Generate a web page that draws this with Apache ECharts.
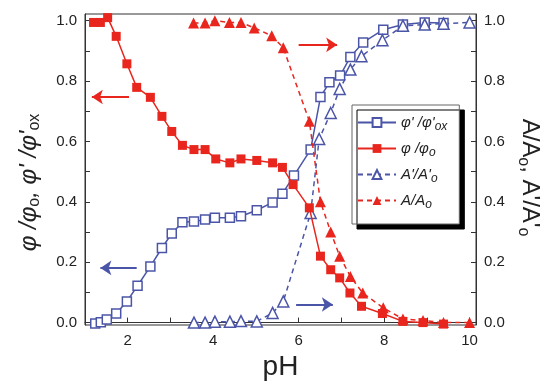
<!DOCTYPE html>
<html>
<head>
<meta charset="utf-8">
<script src="https://cdn.jsdelivr.net/npm/echarts@6/dist/echarts.min.js"></script>
<style>html,body{margin:0;padding:0;background:#fff;}#c{width:545px;height:383px;}</style>
</head>
<body>
<div id="c"></div>
<script>
// φ'/φ'ox (blue open squares)
const phPhiP = [1.24,1.37,1.51,1.73,1.98,2.23,2.53,2.8,3.03,3.28,3.55,3.81,4.04,4.39,4.65,5.02,5.39,5.62,5.89,6.28,6.51,6.72,6.97,7.21,7.51,7.98,8.44,8.95,9.39];
const valPhiP = [-0.003,0.001,0.01,0.03,0.07,0.122,0.186,0.247,0.295,0.332,0.335,0.341,0.347,0.347,0.352,0.372,0.398,0.427,0.487,0.573,0.747,0.796,0.818,0.88,0.928,0.97,0.987,0.994,0.992];
// φ/φo (red filled squares)
const phPhi = [1.2,1.36,1.53,1.73,1.98,2.21,2.53,2.8,3.03,3.28,3.55,3.81,4.06,4.39,4.65,5.02,5.39,5.62,5.87,6.25,6.51,6.75,6.96,7.2,7.47,7.96,8.44,8.91,9.39];
const valPhi = [0.994,0.994,1.01,0.948,0.857,0.779,0.746,0.683,0.633,0.587,0.573,0.573,0.542,0.529,0.542,0.537,0.529,0.514,0.457,0.38,0.22,0.175,0.148,0.098,0.054,0.03,0.004,0.0,-0.005];
// A'/A'o (blue open triangles)
const phAP = [3.55,3.81,4.04,4.39,4.65,5.02,5.39,5.64,6.28,6.48,6.75,6.96,7.21,7.47,7.96,8.44,8.95,9.39,10.0];
const valAP = [0,0,0.003,0.003,0.005,0.004,0.032,0.07,0.363,0.608,0.694,0.774,0.838,0.882,0.935,0.983,0.987,0.99,0.994];
// A/Ao (red filled triangles)
const phA = [3.54,3.81,4.04,4.38,4.65,4.96,5.37,5.64,6.25,6.51,6.75,6.96,7.21,7.5,7.98,8.44,8.91,9.39,10.0];
const valA = [0.992,0.992,1.0,0.994,0.994,0.976,0.95,0.91,0.667,0.40,0.30,0.22,0.153,0.098,0.049,0.012,0.007,0.0,0.0];

const xTicks = [2,3,4,5,6,7,8,9,10];
const xLabels = [2,4,6,8,10];
const yTicks = [0,0.1,0.2,0.3,0.4,0.5,0.6,0.7,0.8,0.9,1.0];
const yLabels = [0,0.2,0.4,0.6,0.8,1.0];

// arrows: [xStart, xEnd, y]
const arrowPhi = [2.03, 1.16, 0.747];
const arrowA = [6.0, 6.9, 0.92];
const arrowPhiP = [2.21, 1.36, 0.181];
const arrowAP = [5.94, 6.8, 0.06];

const BLUE = '#4b55a8', RED = '#e8261e';
const zip = (xs, ys) => xs.map((x, i) => [x, ys[i]]);
const arrowLine = (a, color) => ({
  silent: true, symbol: ['none', 'arrow'], symbolSize: 11,
  label: {show: false},
  itemStyle: {color: color},
  lineStyle: {color: color, width: 2, type: 'solid'},
  emphasis: {disabled: true},
  data: [[{coord: [a[0], a[2]], itemStyle: {color: color}}, {coord: [a[1], a[2]], itemStyle: {color: color}}]]
});

const chart = echarts.init(document.getElementById('c'), null, {renderer: 'canvas'});
const subRich = {
  t: {fontSize: 24, fontStyle: 'italic', color: '#222', fontFamily: 'Liberation Sans'},
  s: {fontSize: 16, color: '#222', fontFamily: 'Liberation Sans', padding: [12, 0, 0, 0]}
};
const axisCommon = {
  axisLine: {show: true, lineStyle: {color: '#333', width: 1}},
  splitLine: {show: false},
  axisLabel: {color: '#222', fontSize: 15, fontFamily: 'Liberation Sans'},
};
chart.setOption({
  animation: false,
  backgroundColor: '#fff',
  grid: {left: 85, right: 69, top: 14, bottom: 58, show: true, borderColor: '#333', borderWidth: 1,
         containLabel: false, outerBoundsMode: 'none'},
  legend: {
    orient: 'vertical', left: 352, top: 105, itemWidth: 38, itemHeight: 11, itemGap: 8,
    padding: [10, 12, 13, 5],
    backgroundColor: '#fff', borderColor: '#666', borderWidth: 1,
    shadowColor: '#000', shadowOffsetX: 5, shadowOffsetY: 5, shadowBlur: 0,
    textStyle: {
      fontSize: 15, fontStyle: 'italic', color: '#222', fontFamily: 'Liberation Sans',
      rich: {
        t: {fontSize: 15, fontStyle: 'italic', color: '#222', fontFamily: 'Liberation Sans'},
        s: {fontSize: 12, color: '#222', fontFamily: 'Liberation Sans', padding: [9, 0, 0, 0]}
      }
    },
    formatter: function (n) {
      const m = {
        "phiP": "{t|φ' /φ'}{s|ox}",
        "phi": "{t|φ /φ}{s|o}",
        "AP": "{t|A'/A'}{s|o}",
        "A": "{t|A/A}{s|o}"
      };
      return m[n];
    },
    data: ['phiP', 'phi', 'AP', 'A']
  },
  xAxis: Object.assign({}, axisCommon, {
    type: 'value', min: 1, max: 10.15,
    name: 'pH', nameLocation: 'middle', nameGap: 28,
    nameTextStyle: {fontSize: 28, color: '#222', fontFamily: 'Liberation Sans'},
    axisTick: {show: true, inside: true, length: 5, customValues: xTicks, lineStyle: {color: '#333'}},
    axisLabel: Object.assign({}, axisCommon.axisLabel, {customValues: xLabels, margin: 8})
  }),
  yAxis: [
    Object.assign({}, axisCommon, {
      type: 'value', min: -0.008, max: 1.022, position: 'left',
      name: "{t|φ /φ}{s|o}{t|, φ' /φ'}{s|ox}", nameLocation: 'middle', nameGap: 42, nameRotate: 90,
      nameTextStyle: {rich: subRich, padding: [0, 26, 0, 0]},
      axisTick: {show: true, inside: true, length: 5, customValues: yTicks, lineStyle: {color: '#333'}},
      axisLabel: Object.assign({}, axisCommon.axisLabel, {customValues: yLabels, formatter: v => v.toFixed(1), margin: 8})
    }),
    Object.assign({}, axisCommon, {
      type: 'value', min: -0.008, max: 1.022, position: 'right',
      name: "{t|A/A}{s|o}{t|, A'/A'}{s|o}", nameLocation: 'middle', nameGap: 28, nameRotate: -90,
      nameTextStyle: {padding: [0, 0, 0, 16], rich: {
        t: {fontSize: 24, color: '#222', fontFamily: 'Liberation Sans'},
        s: {fontSize: 16, color: '#222', fontFamily: 'Liberation Sans', padding: [12, 0, 0, 0]}
      }},
      axisTick: {show: true, inside: true, length: 5, customValues: yTicks, lineStyle: {color: '#333'}},
      axisLabel: Object.assign({}, axisCommon.axisLabel, {customValues: yLabels, formatter: v => v.toFixed(1), margin: 8})
    })
  ],
  series: [
    {
      name: 'phiP', type: 'line', yAxisIndex: 0, data: zip(phPhiP, valPhiP),
      symbol: 'rect', symbolSize: 9, showAllSymbol: true,
      itemStyle: {color: '#fff', borderColor: BLUE, borderWidth: 1.5},
      lineStyle: {color: BLUE, width: 1.5, type: 'solid'},
      markLine: arrowLine(arrowPhiP, BLUE), z: 3
    },
    {
      name: 'phi', type: 'line', yAxisIndex: 0, data: zip(phPhi, valPhi),
      symbol: 'rect', symbolSize: 9, showAllSymbol: true,
      itemStyle: {color: RED, borderColor: RED, borderWidth: 0},
      lineStyle: {color: RED, width: 1.5, type: 'solid'},
      markLine: arrowLine(arrowPhi, RED), z: 4
    },
    {
      name: 'AP', type: 'line', yAxisIndex: 1, data: zip(phAP, valAP),
      symbol: 'triangle', symbolSize: 11, showAllSymbol: true,
      itemStyle: {color: '#fff', borderColor: BLUE, borderWidth: 1.5},
      lineStyle: {color: BLUE, width: 1.5, type: [5, 4]},
      markLine: arrowLine(arrowAP, BLUE), z: 3
    },
    {
      name: 'A', type: 'line', yAxisIndex: 1, data: zip(phA, valA),
      symbol: 'triangle', symbolSize: 11, showAllSymbol: true,
      itemStyle: {color: RED, borderColor: RED, borderWidth: 0},
      lineStyle: {color: RED, width: 1.5, type: [5, 4]},
      markLine: arrowLine(arrowA, RED), z: 4
    }
  ]
});
</script>
</body>
</html>
